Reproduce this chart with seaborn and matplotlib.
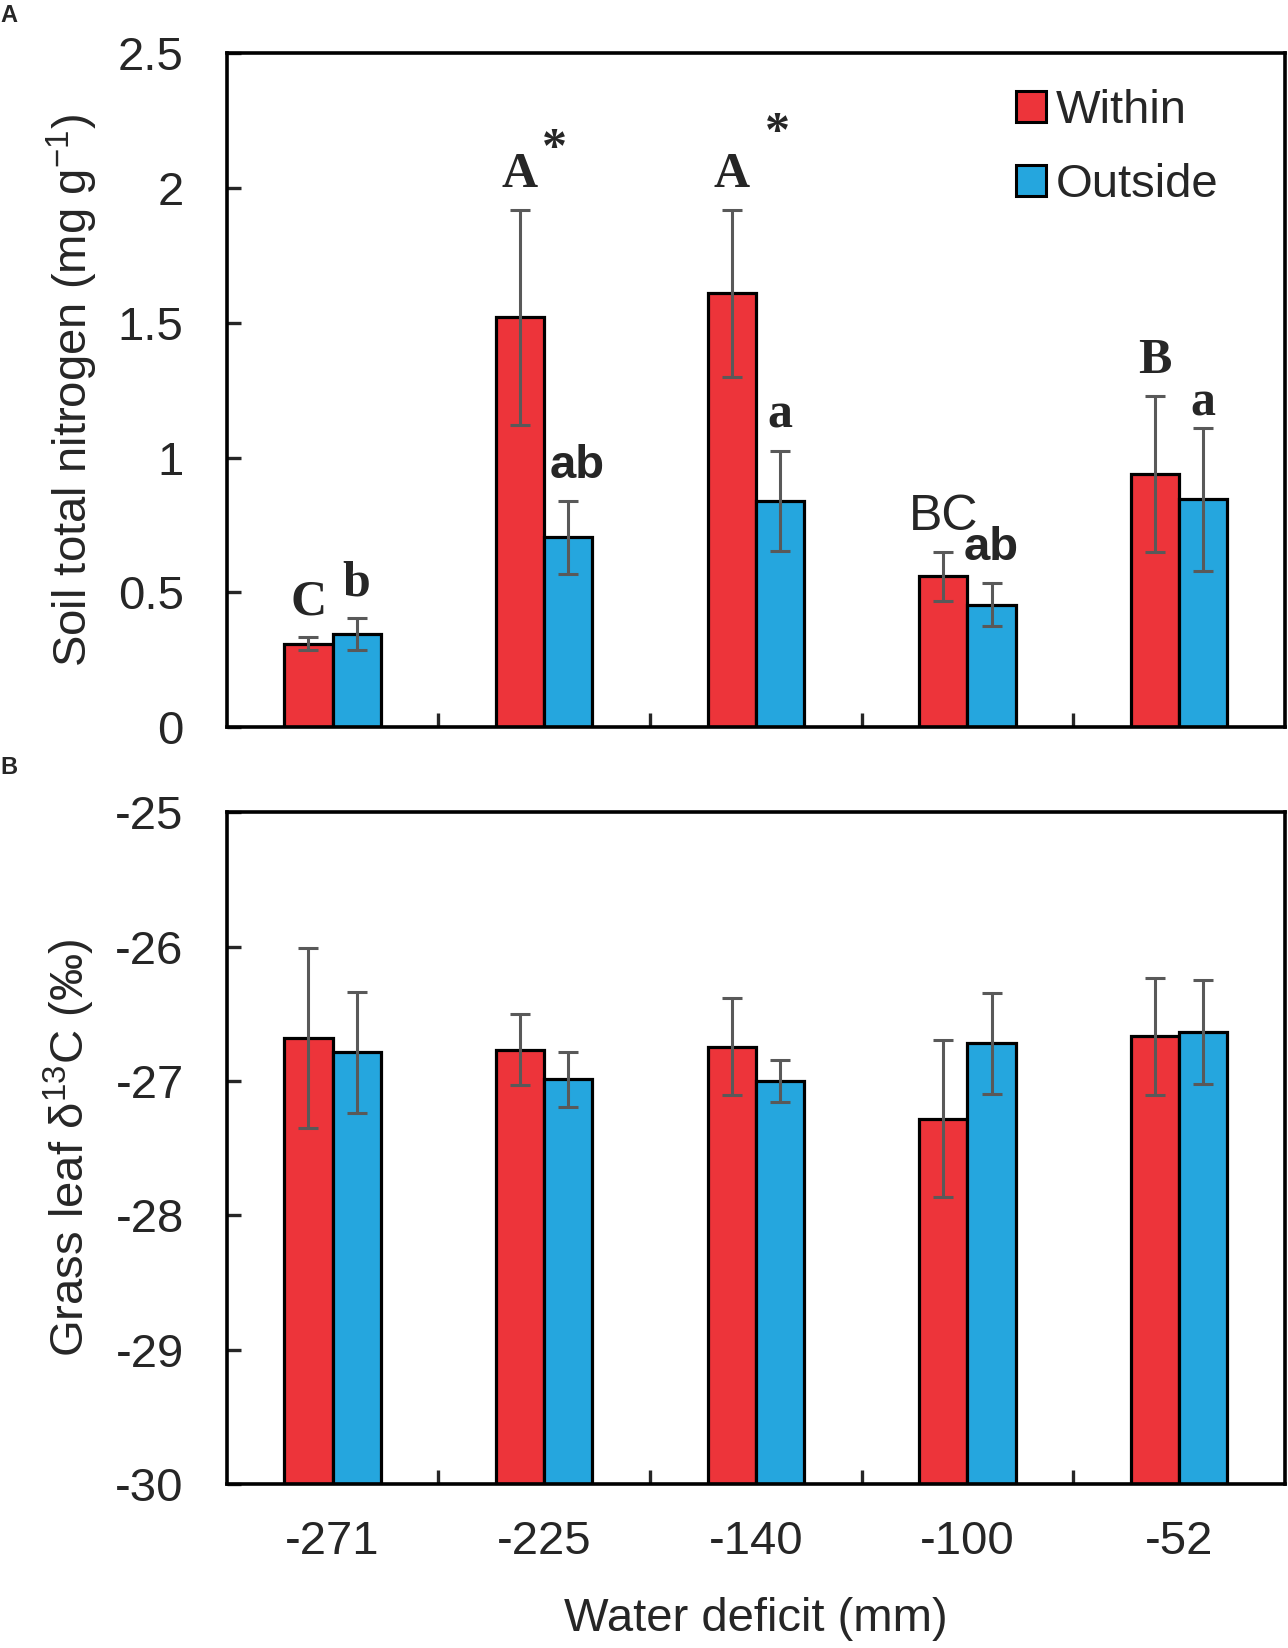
"""
Soil total nitrogen and grass leaf d13C within / outside, along a water deficit gradient
"""

import matplotlib
matplotlib.use('Agg')
import matplotlib.pyplot as plt
from matplotlib.patches import Patch
from matplotlib.ticker import FixedLocator
import seaborn as sns
import pandas as pd

# data
deficits = ['-271', '-225', '-140', '-100', '-52']
sites = ['Within', 'Outside']

tn_within = [0.31, 1.52, 1.61, 0.56, 0.94]
tn_within_err = [0.023, 0.40, 0.31, 0.09, 0.29]
tn_outside = [0.345, 0.705, 0.84, 0.455, 0.845]
tn_outside_err = [0.059, 0.135, 0.185, 0.08, 0.265]

tn_letters_within = ['C', 'A', 'A', 'BC', 'B']
tn_letters_outside = ['b', 'ab', 'a', 'ab', 'a']
tn_stars = ['', '*', '*', '', '']

d13c_within = [-26.68, -26.765, -26.745, -27.28, -26.665]
d13c_within_err = [0.67, 0.265, 0.36, 0.585, 0.435]
d13c_outside = [-26.787, -26.985, -26.998, -26.72, -26.633]
d13c_outside_err = [0.45, 0.205, 0.155, 0.375, 0.385]

sns.set_theme(style='white')
plt.rcParams['font.family'] = ['Liberation Sans', 'DejaVu Sans']
plt.rcParams['mathtext.fontset'] = 'custom'
plt.rcParams['mathtext.rm'] = 'Liberation Sans'
plt.rcParams['mathtext.it'] = 'Liberation Sans:italic'
plt.rcParams['mathtext.bf'] = 'Liberation Sans:bold'

colors = {'Within': '#ED343A', 'Outside': '#25A6DE'}
FS = 34


def make_frame(within, outside):
    return pd.DataFrame({
        'deficit': deficits * 2,
        'site': ['Within'] * len(deficits) + ['Outside'] * len(deficits),
        'value': within + outside,
    })


def draw_panel(ax, within, w_err, outside, o_err, bottom):
    df = make_frame(within, outside)
    df['height'] = df['value'] - bottom
    sns.barplot(data=df, x='deficit', y='height', hue='site', order=deficits,
                hue_order=sites, palette=colors, width=0.456, errorbar=None,
                edgecolor='black', linewidth=2.3, saturation=1, legend=False,
                bottom=bottom, ax=ax)
    centers = {}
    for cont, vals, errs, site in zip(ax.containers, [within, outside], [w_err, o_err], sites):
        xs = [p.get_x() + p.get_width() / 2 for p in cont.patches]
        centers[site] = xs
        ax.errorbar(xs, vals, yerr=errs, fmt='none', ecolor='#595959',
                    elinewidth=2.2, capsize=7.5, capthick=2.2, zorder=5)
    # frame and ticks
    for sp in ax.spines.values():
        sp.set_visible(True)
        sp.set_color('black')
        sp.set_linewidth(2.6)
    ax.set_xlim(-0.5, len(deficits) - 0.5)
    ax.xaxis.set_minor_locator(FixedLocator([i + 0.5 for i in range(len(deficits) - 1)]))
    ax.tick_params(axis='x', which='major', length=0, labelsize=FS, pad=26)
    ax.tick_params(axis='x', which='minor', direction='in', length=10, width=2.4,
                   bottom=True, top=False)
    ax.tick_params(axis='y', which='major', direction='in', length=10, width=2.4,
                   left=True, right=False, labelsize=FS, pad=31)
    ax.grid(False)
    return centers


fig = plt.figure(figsize=(12.88, 16.48), dpi=100)
ax1 = fig.add_axes([0.176, 0.5587, 0.8216, 0.409])
ax2 = fig.add_axes([0.176, 0.0995, 0.8216, 0.4075])

# Panel A
c1 = draw_panel(ax1, tn_within, tn_within_err, tn_outside, tn_outside_err, 0)
ax1.set_ylim(0, 2.5)
ax1.set_yticks([0, 0.5, 1, 1.5, 2, 2.5])
ax1.set_yticklabels(['0', '0.5', '1', '1.5', '2', '2.5'])
ax1.set_xticklabels([])
ax1.set_xlabel('')
ax1.set_ylabel(r'Soil total nitrogen (mg g$^{-1}$)', fontsize=FS, labelpad=13)

serif = ['Liberation Serif', 'DejaVu Serif']
sans = ['Liberation Sans', 'DejaVu Sans']
for i in range(len(deficits)):
    lw = tn_letters_within[i]
    lo = tn_letters_outside[i]
    fam_w = serif if lw in ('A', 'B', 'C') else sans
    fam_o = serif if lo in ('a', 'b') else sans
    wt_w = 'normal' if lw == 'BC' else 'bold'
    gap_o = 0.09 if i == 4 else 0.13
    ax1.text(c1['Within'][i], tn_within[i] + tn_within_err[i] + 0.13, lw,
             ha='center', va='center', fontsize=36, family=fam_w, fontweight=wt_w)
    ax1.text(c1['Outside'][i] + (0.04 if i == 1 else 0), tn_outside[i] + tn_outside_err[i] + gap_o, lo,
             ha='center', va='center', fontsize=34 if lo == 'ab' else 36,
             family=fam_o, fontweight='bold')
    if tn_stars[i]:
        ax1.text(i + 0.05 + 0.05 * (i - 1), 2.14 + 0.06 * (i - 1), tn_stars[i],
                 ha='center', va='center', fontsize=36, family=serif, fontweight='bold')

handles = [Patch(facecolor=colors[s], edgecolor='black', linewidth=2.2) for s in sites]
ax1.legend(handles, sites, loc='upper right', bbox_to_anchor=(0.955, 0.975),
           frameon=False, fontsize=FS, handlelength=0.65, handleheight=0.65,
           handletextpad=0.2, labelspacing=0.64, borderaxespad=0)

# Panel B
draw_panel(ax2, d13c_within, d13c_within_err, d13c_outside, d13c_outside_err, -30)
ax2.set_ylim(-30, -25)
ax2.set_yticks([-30, -29, -28, -27, -26, -25])
ax2.set_yticklabels(['-30', '-29', '-28', '-27', '-26', '-25'])
ax2.set_xlabel('Water deficit (mm)', fontsize=FS, labelpad=24)
ax2.set_ylabel('Grass leaf δ$^{13}$C (‰)', fontsize=FS, labelpad=13)

fig.text(0.0, 0.9905, 'A', fontsize=17, fontweight='bold', va='center', ha='left')
fig.text(0.0, 0.534, 'B', fontsize=17, fontweight='bold', va='center', ha='left')

fig.savefig('out.png', dpi=100)
